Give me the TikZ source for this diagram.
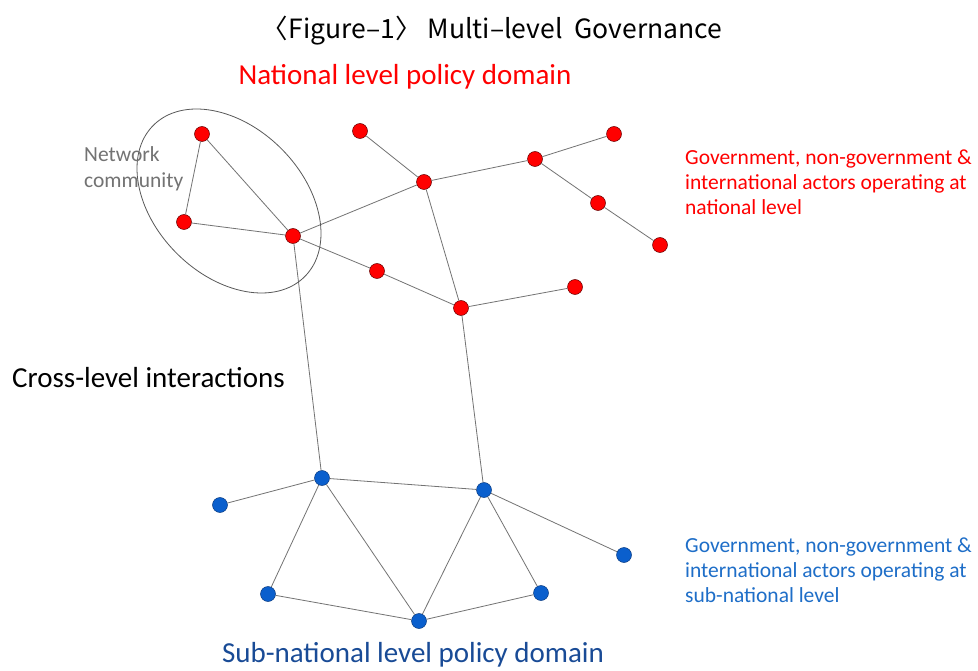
\documentclass[tikz,border=0pt]{standalone}
\usepackage{fontspec}
\setmainfont{Carlito}
\newfontfamily\titlefont{Noto Sans CJK KR}
\begin{document}
\begin{tikzpicture}[x=1pt,y=-1pt,
  link/.style={draw=black!55, line width=0.8pt},
  rednode/.style={circle, fill=red, draw=black!60!red, line width=0.5pt, minimum size=15pt, inner sep=0pt},
  bluenode/.style={circle, fill={rgb,255:red,10;green,95;blue,205}, draw={rgb,255:red,10;green,60;blue,130}, line width=0.5pt, minimum size=15pt, inner sep=0pt},
  sidetxt/.style={align=left, anchor=base west, font=\fontsize{21.5}{25}\selectfont, inner sep=0pt},
  redtxt/.style={sidetxt, text=red},
  bluetxt/.style={sidetxt, text={rgb,255:red,30;green,110;blue,200}}]
\useasboundingbox (0,0) rectangle (978,671);
\fill[white] (0,0) rectangle (978,671);

% national level actors
\node[rednode] (r1) at (202,134) {};
\node[rednode] (r2) at (184,222) {};
\node[rednode] (r3) at (293,236) {};
\node[rednode] (r4) at (360,131) {};
\node[rednode] (r5) at (424,182) {};
\node[rednode] (r6) at (535,159) {};
\node[rednode] (r7) at (614,134) {};
\node[rednode] (r8) at (598,203) {};
\node[rednode] (r9) at (660,245) {};
\node[rednode] (r10) at (377,271) {};
\node[rednode] (r11) at (461,308) {};
\node[rednode] (r12) at (575,287) {};

% sub-national level actors
\node[bluenode] (b1) at (322,478) {};
\node[bluenode] (b2) at (484,490) {};
\node[bluenode] (b3) at (220,505) {};
\node[bluenode] (b4) at (268,594) {};
\node[bluenode] (b5) at (419,621) {};
\node[bluenode] (b6) at (541,593) {};
\node[bluenode] (b7) at (624,555) {};

% links within and across levels
\foreach \a/\b in {r1/r2,r1/r3,r2/r3,r3/r5,r3/r10,r10/r11,r4/r5,r5/r6,r6/r7,r6/r8,r8/r9,r5/r11,r11/r12,
                   b1/b3,b1/b2,b1/b4,b1/b5,b2/b5,b2/b6,b2/b7,b4/b5,b5/b6,r3/b1,r11/b2}
  \draw[link] (\a) -- (\b);

% community outline
\draw[black!65, line width=0.8pt, rotate around={-45:(229,201)}] (229,201) ellipse [x radius=107, y radius=74];

% labels (multi-line nodes sit on the baseline of their last line)
\node (title) at (492,31) {\titlefont\fontsize{26.5}{30}\selectfont 〈Figure–1〉 Multi–level\ \ Governance};
\node[text=red, font=\fontsize{29}{34}\selectfont] (nat) at (405,77) {National level policy domain};
\node[text=black!55, align=left, anchor=base west, inner sep=0pt, font=\fontsize{21.5}{26}\selectfont] (comm) at (84,188) {Network\\community};
\node[anchor=west, inner sep=0pt, font=\fontsize{29}{34}\selectfont] (cross) at (12,378) {Cross-level interactions};
\node[redtxt] (natact) at (685,215) {Government, non-government \&\\international actors operating at\\national level};
\node[bluetxt] (subact) at (685,602) {Government, non-government \&\\international actors operating at\\sub-national level};
\node[text={rgb,255:red,25;green,75;blue,150}, font=\fontsize{29}{34}\selectfont] (sub) at (413,655) {Sub-national level policy domain};
\end{tikzpicture}
\end{document}
